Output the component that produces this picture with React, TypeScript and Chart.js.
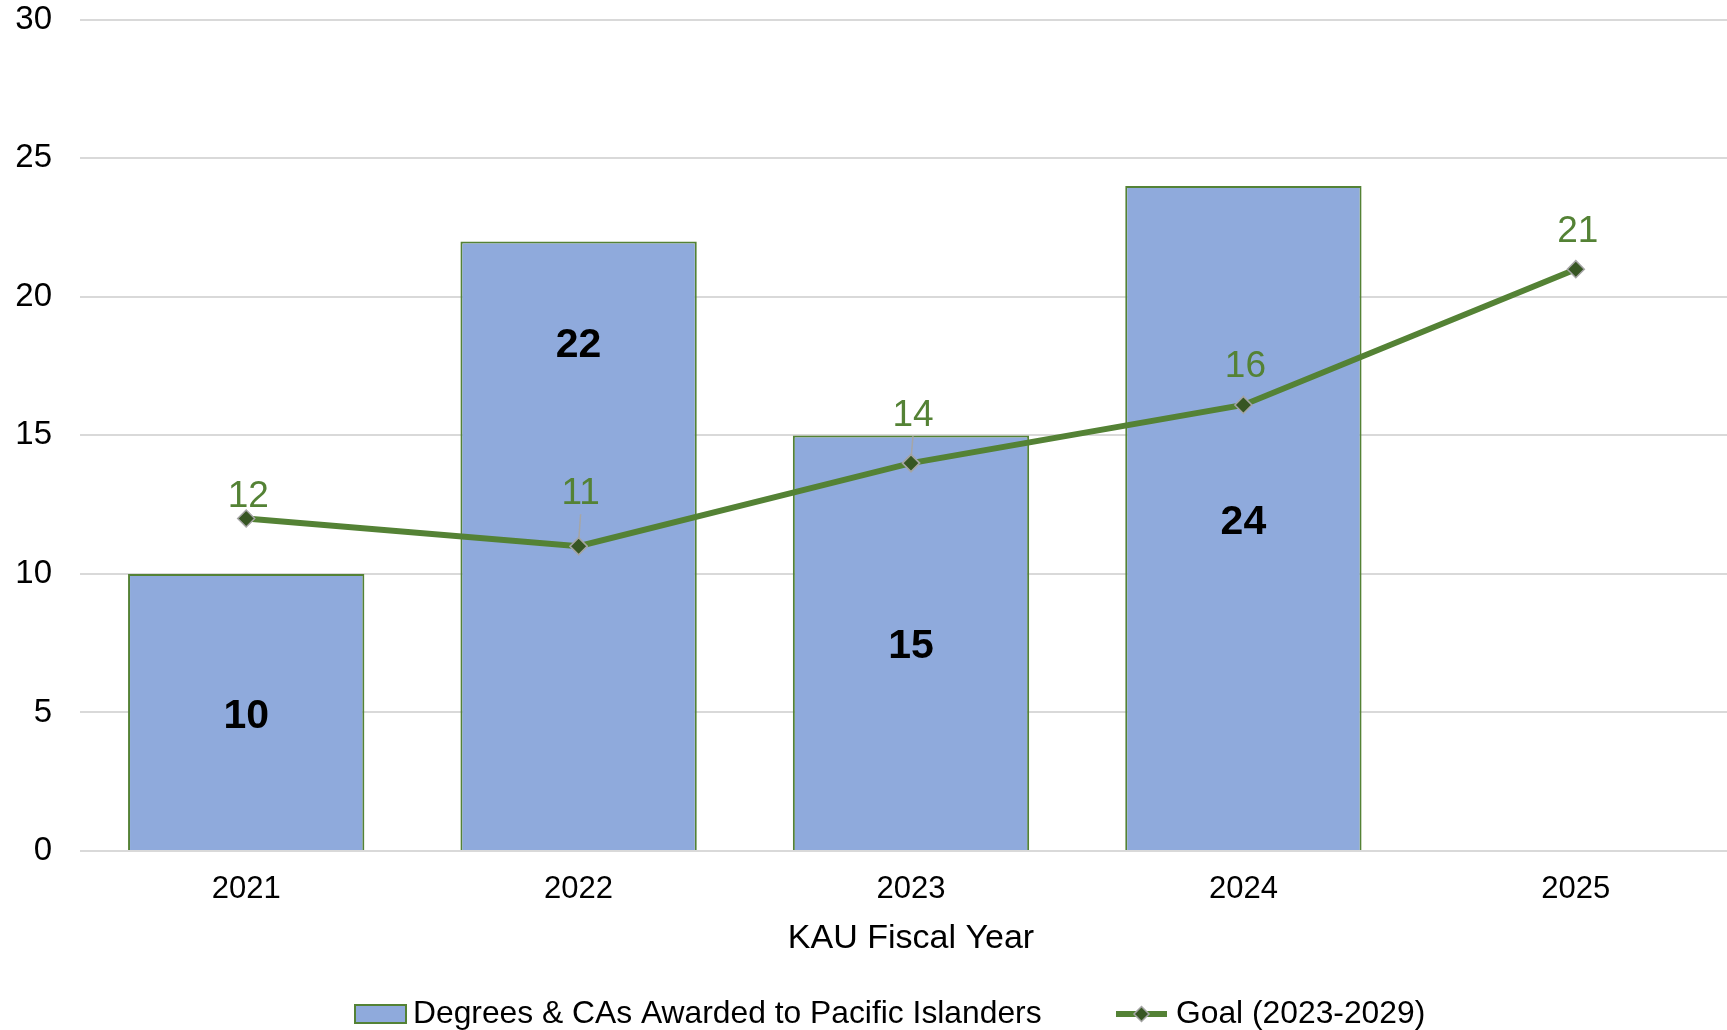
import React, { useEffect, useRef } from "react";
import { Chart, registerables } from "chart.js";

Chart.register(...registerables);

// ---------- data ----------
const categories = ["2021", "2022", "2023", "2024", "2025"];
const degreesAwarded: (number | null)[] = [10, 22, 15, 24, null];
const goalValues = [12, 11, 14, 16.1, 21];
const yTickValues = [0, 5, 10, 15, 20, 25, 30];
const barSeriesName = "Degrees & CAs Awarded to Pacific Islanders";
const goalSeriesName = "Goal (2023-2029)";
const xAxisTitle = "KAU Fiscal Year";

// ---------- style ----------
const FONT = "'Liberation Sans', Arial, Helvetica, sans-serif";
const BAR_FILL = "#8FAADC";
const GREEN = "#548235";
const MARKER_FILL = "#375623";
const MARKER_BORDER = "#A5A5A5";
const GRID = "#D9D9D9";
const barLabelFraction = [0.5, 0.836, 0.5, 0.5, 0.5];
const barLabelShift = 4.4;
const goalLabelOffset = [22, 52, 47, 38, 37];
const goalLabelLeader = [false, true, true, false, false];

const valueLabelsPlugin = {
  id: "valueLabels",
  afterDatasetsDraw(chart: any) {
    const ctx = chart.ctx;
    ctx.save();
    // bar labels
    const barMeta = chart.getDatasetMeta(0);
    ctx.font = `bold 41px ${FONT}`;
    ctx.fillStyle = "#000000";
    ctx.textAlign = "center";
    ctx.textBaseline = "middle";
    barMeta.data.forEach((el: any, i: number) => {
      const v = degreesAwarded[i];
      if (v == null) return;
      const y = el.base + (el.y - el.base) * barLabelFraction[i] + barLabelShift;
      ctx.fillText(String(v), el.x, y);
    });
    // goal labels
    const lineMeta = chart.getDatasetMeta(1);
    ctx.font = `37px ${FONT}`;
    lineMeta.data.forEach((pt: any, i: number) => {
      const off = goalLabelOffset[i];
      const ly = pt.y - off;
      if (goalLabelLeader[i]) {
        ctx.strokeStyle = "#A6A6A6";
        ctx.lineWidth = 1.5;
        ctx.beginPath();
        ctx.moveTo(pt.x + 2, ly + 20);
        ctx.lineTo(pt.x, pt.y - 4);
        ctx.stroke();
        // redraw marker on top of leader
        pt.draw(ctx, chart.chartArea);
      }
      ctx.fillStyle = GREEN;
      ctx.fillText(String(Math.round(goalValues[i])), pt.x + 2, ly);
    });
    ctx.restore();
  },
};

const customLegendPlugin = {
  id: "customLegend",
  afterDraw(chart: any) {
    const ctx = chart.ctx;
    ctx.save();
    const cy = 1014;
    ctx.font = `31.8px ${FONT}`;
    ctx.textBaseline = "middle";
    ctx.textAlign = "left";
    // bar swatch
    const x1 = 355;
    ctx.fillStyle = BAR_FILL;
    ctx.fillRect(x1, cy - 9, 51, 18);
    ctx.strokeStyle = GREEN;
    ctx.lineWidth = 2;
    ctx.strokeRect(x1, cy - 9, 51, 18);
    ctx.fillStyle = "#000000";
    ctx.fillText(barSeriesName, x1 + 58, cy);
    // line swatch
    const x2 = 1116;
    ctx.strokeStyle = GREEN;
    ctx.lineWidth = 6;
    ctx.beginPath();
    ctx.moveTo(x2, cy);
    ctx.lineTo(x2 + 51, cy);
    ctx.stroke();
    const mx = x2 + 25.5;
    const r = 7.5;
    ctx.beginPath();
    ctx.moveTo(mx, cy - r);
    ctx.lineTo(mx + r, cy);
    ctx.lineTo(mx, cy + r);
    ctx.lineTo(mx - r, cy);
    ctx.closePath();
    ctx.fillStyle = MARKER_FILL;
    ctx.fill();
    ctx.strokeStyle = MARKER_BORDER;
    ctx.lineWidth = 1.5;
    ctx.stroke();
    ctx.fillStyle = "#000000";
    ctx.fillText(goalSeriesName, x2 + 60, cy);
    ctx.restore();
  },
};

export default function App() {
  const canvasRef = useRef<HTMLCanvasElement | null>(null);

  useEffect(() => {
    document.body.style.margin = "0";
    const canvas = canvasRef.current;
    if (!canvas) return;
    const chart = new Chart(canvas, {
      type: "bar",
      data: {
        labels: categories,
        datasets: [
          {
            type: "bar",
            label: barSeriesName,
            data: degreesAwarded as any,
            backgroundColor: BAR_FILL,
            borderColor: GREEN,
            borderWidth: 2,
            barPercentage: 0.711,
            categoryPercentage: 1,
            order: 2,
          },
          {
            type: "line",
            label: goalSeriesName,
            data: goalValues,
            borderColor: GREEN,
            borderWidth: 6,
            pointStyle: "rectRot",
            pointRadius: 8.5,
            pointBackgroundColor: MARKER_FILL,
            pointBorderColor: MARKER_BORDER,
            pointBorderWidth: 1.5,
            tension: 0,
            fill: false,
            order: 1,
          } as any,
        ],
      },
      options: {
        responsive: false,
        animation: false,
        devicePixelRatio: 1,
        layout: { padding: { left: 15.3, top: 19, right: 0, bottom: 69 } },
        plugins: {
          legend: { display: false },
          tooltip: { enabled: false },
        },
        scales: {
          x: {
            grid: { display: false, drawTicks: true, tickLength: 20, tickColor: "rgba(0,0,0,0)" },
            border: { display: false },
            ticks: {
              color: "#000000",
              font: { family: FONT, size: 31 },
              padding: 0,
            },
            title: {
              display: true,
              text: xAxisTitle,
              color: "#000000",
              font: { family: FONT, size: 34 },
              padding: { top: 10, bottom: 2 },
            },
          },
          y: {
            min: 0,
            max: 30,
            afterBuildTicks: (axis: any) => {
              axis.ticks = yTickValues.map((v) => ({ value: v }));
            },
            grid: {
              color: GRID,
              lineWidth: 2,
              drawTicks: true,
              tickLength: 28,
              tickColor: "rgba(0,0,0,0)",
            },
            border: { display: false },
            ticks: {
              color: "#000000",
              font: { family: FONT, size: 33 },
              padding: 0,
            },
          },
        },
      },
      plugins: [valueLabelsPlugin, customLegendPlugin],
    });
    return () => chart.destroy();
  }, []);

  return (
    <div
      style={{
        position: "fixed",
        left: 0,
        top: 0,
        width: 1727,
        height: 1030,
        overflow: "hidden",
        background: "#ffffff",
      }}
    >
      <canvas ref={canvasRef} width={1752} height={1030} style={{ display: "block" }} />
    </div>
  );
}
